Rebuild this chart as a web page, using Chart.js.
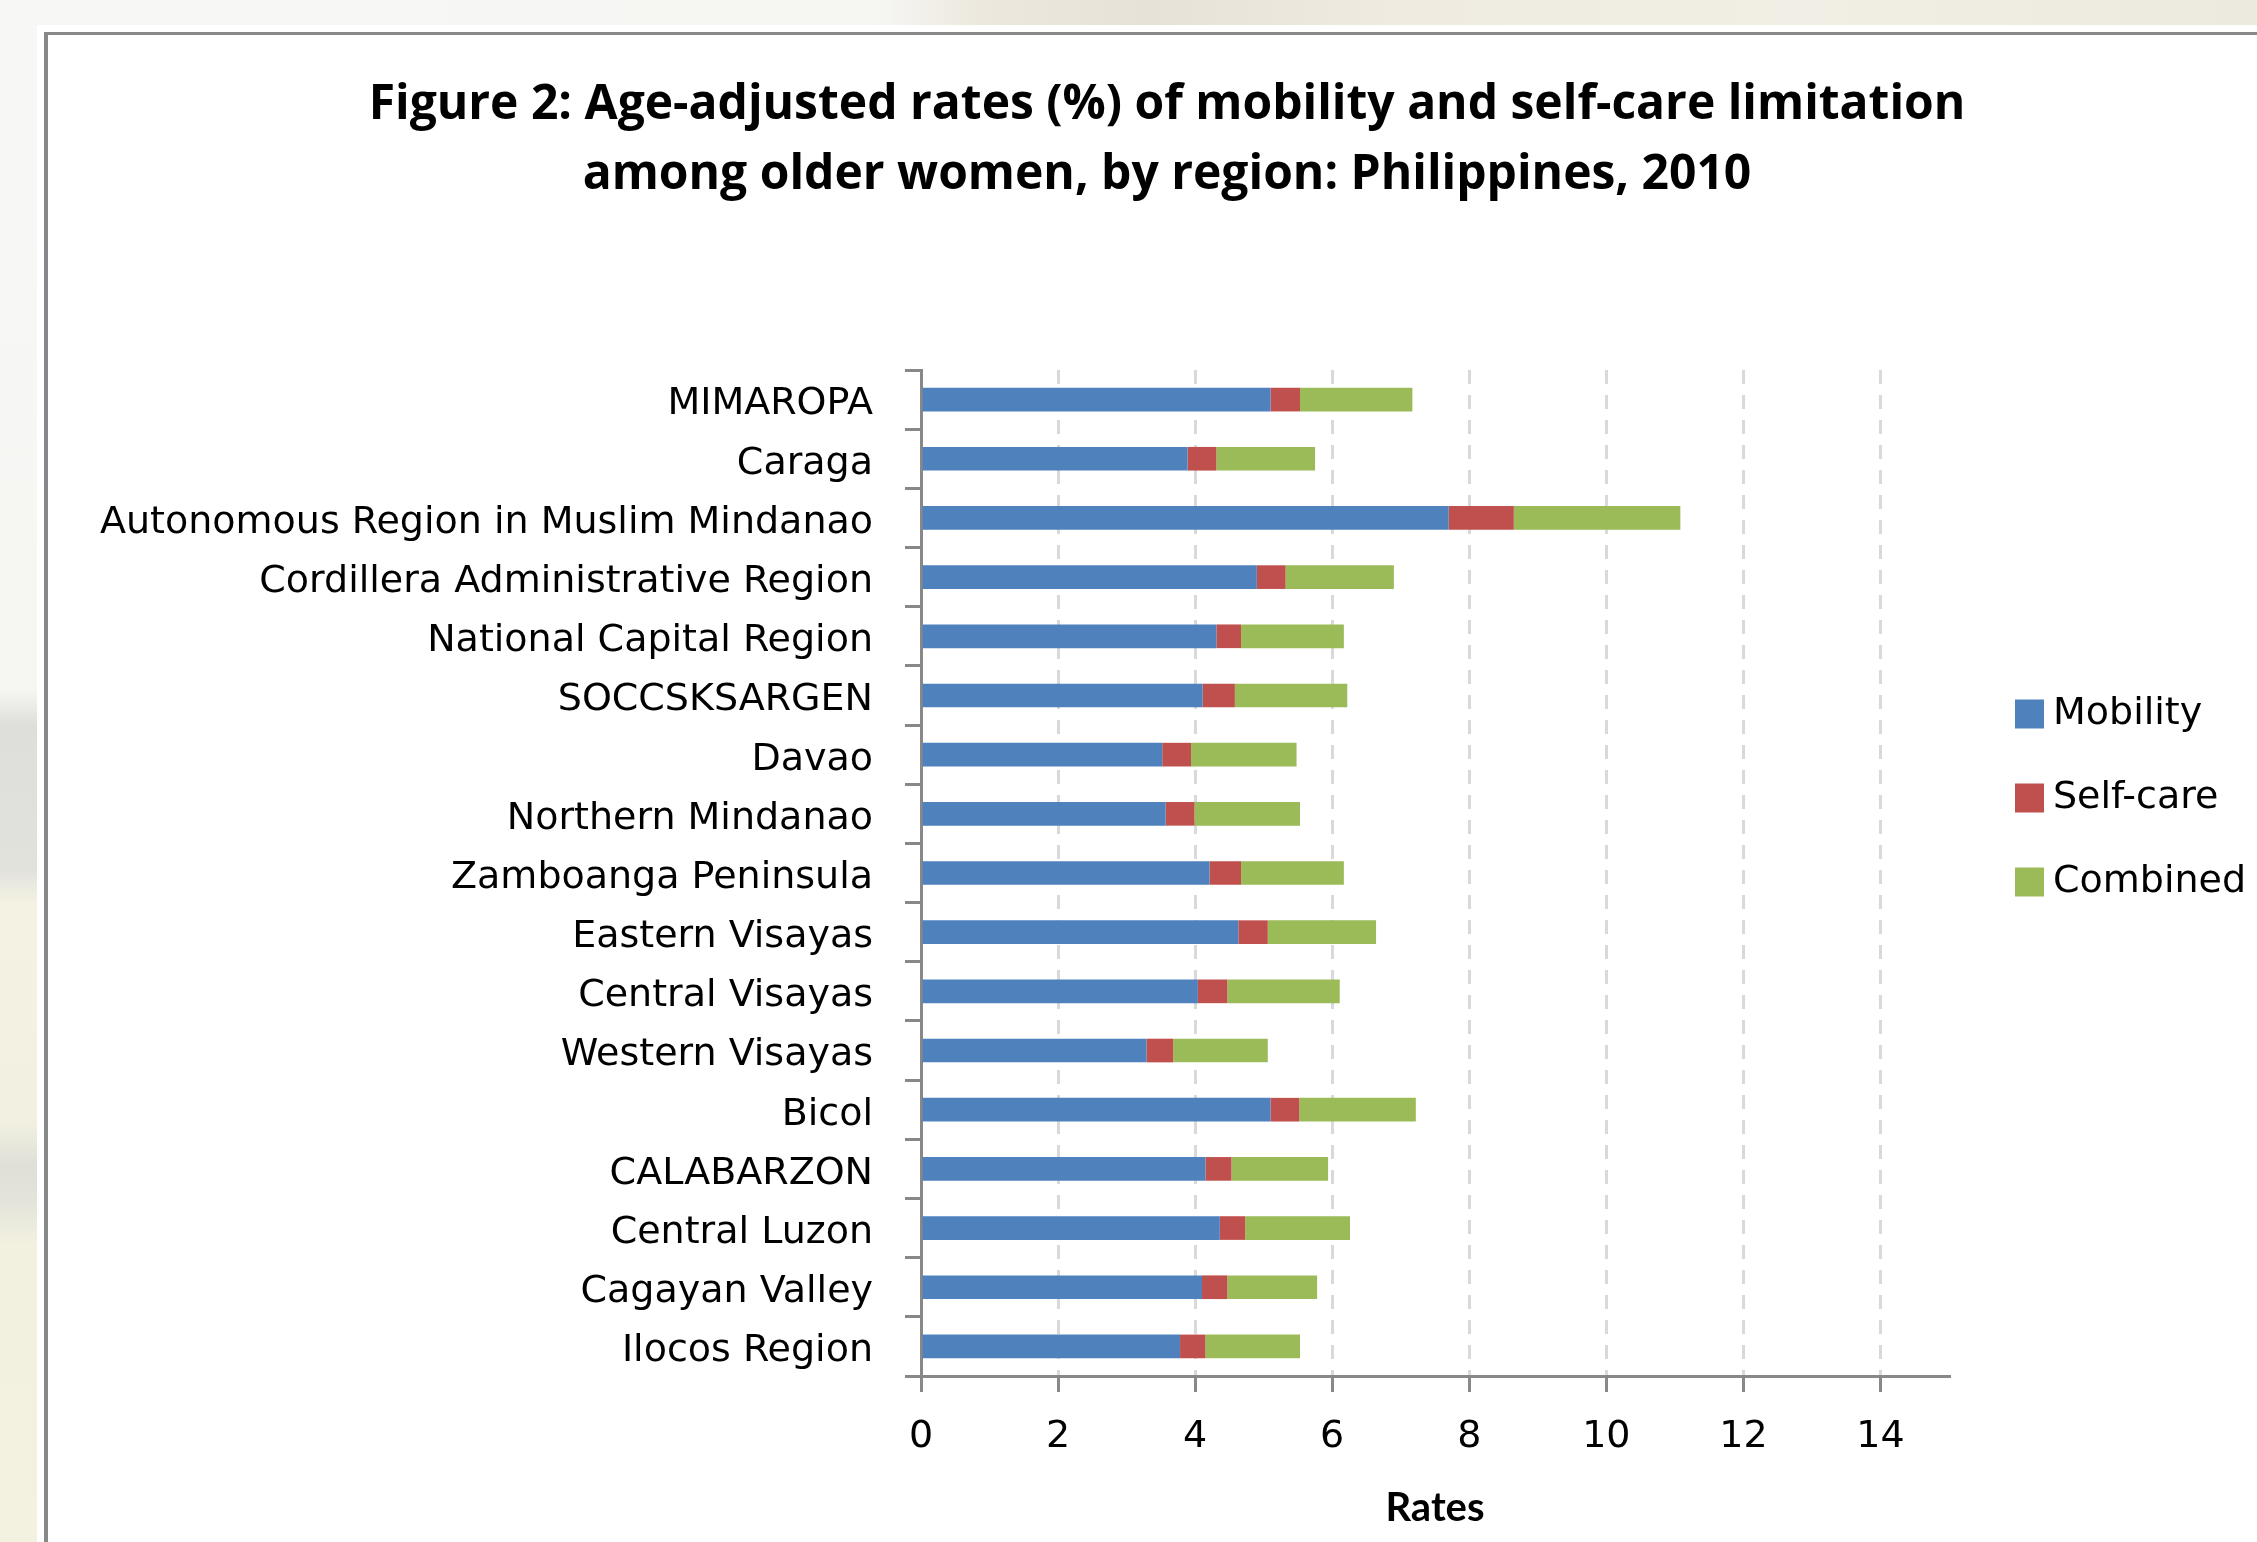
<!DOCTYPE html>
<html>
<head>
<meta charset="utf-8">
<title>Mobility and self-care limitation among older women, Philippines 2010</title>
<script src="https://cdn.jsdelivr.net/npm/chart.js@4.4.1/dist/chart.umd.min.js"></script>
<style>
  html, body { margin: 0; padding: 0; width: 2257px; height: 1542px; overflow: hidden; }
  body {
    position: relative;
    background: linear-gradient(to bottom,
      #f7f7f5 0px, #f6f6f3 690px, #dededa 725px, #e2e2dd 870px,
      #f4f3e3 905px, #f2f1e1 1120px, #dfdfd8 1165px, #e3e3da 1200px,
      #f2f1e0 1245px, #f3f1df 1542px);
  }
  #topband {
    position: absolute; left: 0; top: 0; width: 2257px; height: 25px;
    background: linear-gradient(to right,
      #f7f7f5 0px, #f6f6f3 880px, #ece8dd 980px, #e6e2d7 1150px,
      #efebe1 1400px, #f1eee5 1800px, #ece9df 2257px);
  }
  #sheet { position: absolute; left: 37px; top: 25px; right: 0; bottom: 0; background: #fff; }
  #frame {
    position: absolute; left: 44px; top: 32px; width: 2400px; height: 1700px;
    border-left: 4px solid #888; border-top: 3px solid #888;
  }
  #chart { position: absolute; left: 0; top: 0; }
</style>
</head>
<body>
<div id="topband"></div>
<div id="sheet"></div>
<div id="frame"></div>
<!-- the canvas runs a little past the right edge of the page; the legend's last word is cut there -->
<canvas id="chart" width="2304" height="1542"></canvas>
<script>
// Regions in official order (Region I first); the axis is reversed so Region I sits at the bottom.
const regions = [
  'Ilocos Region', 'Cagayan Valley', 'Central Luzon', 'CALABARZON', 'Bicol',
  'Western Visayas', 'Central Visayas', 'Eastern Visayas', 'Zamboanga Peninsula',
  'Northern Mindanao', 'Davao', 'SOCCSKSARGEN', 'National Capital Region',
  'Cordillera Administrative Region', 'Autonomous Region in Muslim Mindanao',
  'Caraga', 'MIMAROPA'
];

// Age-adjusted rates (%) per region
const mobility = [3.78, 4.10, 4.36, 4.15, 5.10, 3.29, 4.04, 4.63, 4.21, 3.57, 3.52, 4.11, 4.31, 4.90, 7.70, 3.89, 5.10];
const selfCare = [0.37, 0.37, 0.37, 0.38, 0.42, 0.39, 0.43, 0.43, 0.46, 0.42, 0.42, 0.47, 0.36, 0.42, 0.95, 0.42, 0.43];
const combined = [1.38, 1.31, 1.53, 1.41, 1.70, 1.38, 1.64, 1.58, 1.50, 1.54, 1.54, 1.64, 1.50, 1.58, 2.43, 1.44, 1.64];

const seriesNames = ['Mobility', 'Self-care', 'Combined'];
const rateTicks = [0, 2, 4, 6, 8, 10, 12, 14];

const titleLines = [
  'Figure 2: Age-adjusted rates (%) of mobility and self-care limitation',
  'among older women, by region: Philippines, 2010'
];
const axisTitle = 'Rates';

const COLORS = ['#4F81BD', '#C0504D', '#9BBB59'];
const LABEL_FONT = { family: 'DejaVu Sans', size: 38 };

// Legend drawn as a vertical column to the right of the plot
const sideLegend = {
  id: 'sideLegend',
  afterDraw(chart) {
    const ctx = chart.ctx;
    const box = 29, boxX = 2015, textX = 2053, firstY = 714, step = 84;
    ctx.save();
    ctx.font = LABEL_FONT.size + 'px "' + LABEL_FONT.family + '"';
    ctx.textAlign = 'left';
    ctx.textBaseline = 'middle';
    chart.data.datasets.forEach((ds, i) => {
      const y = firstY + i * step;
      ctx.fillStyle = ds.backgroundColor;
      ctx.fillRect(boxX, y - box / 2, box, box);
      ctx.fillStyle = '#000';
      ctx.fillText(ds.label, textX, y);
    });
    ctx.restore();
  }
};

new Chart(document.getElementById('chart'), {
  type: 'bar',
  data: {
    labels: regions,
    datasets: [mobility, selfCare, combined].map((values, i) => ({
      label: seriesNames[i],
      data: values,
      backgroundColor: COLORS[i],
      borderWidth: 0,
      barPercentage: 0.4,
      categoryPercentage: 1.0
    }))
  },
  options: {
    indexAxis: 'y',
    responsive: false,
    animation: false,
    devicePixelRatio: 1,
    layout: { padding: { left: 30, right: 0, top: 0, bottom: 0 } },
    plugins: {
      legend: { display: false },
      tooltip: { enabled: false },
      title: {
        display: true,
        text: titleLines,
        color: '#000',
        font: { family: 'Open Sans', weight: 'bold', size: 48, lineHeight: 70 / 48 },
        padding: { top: 70, bottom: 160 }
      }
    },
    scales: {
      x: {
        type: 'linear',
        stacked: true,
        min: 0,
        max: 15,
        bounds: 'data',
        afterBuildTicks(scale) {
          scale.ticks = rateTicks.map(v => ({ value: v }));
        },
        grid: {
          color: (c) => (c.tick && c.tick.value === 0 ? 'rgba(0,0,0,0)' : '#d9d9d9'),
          lineWidth: 3,
          drawTicks: true,
          tickLength: 16,
          tickColor: '#888',
          tickWidth: 3,
          tickBorderDash: []
        },
        border: { display: true, color: '#888', width: 3, dash: [14, 11] },
        ticks: { font: LABEL_FONT, color: '#000', padding: 22, maxRotation: 0, autoSkip: false },
        title: {
          display: true,
          text: axisTitle,
          color: '#000',
          font: { family: 'Lato', weight: 'bold', size: 40 },
          padding: { top: 0, bottom: 10 }
        },
        afterFit(scale) { scale.height = 166; }
      },
      y: {
        type: 'category',
        position: 'left',
        stacked: true,
        reverse: true,
        offset: true,
        grid: {
          offset: true,
          drawOnChartArea: false,
          drawTicks: true,
          tickLength: 16,
          color: '#888',
          tickColor: '#888',
          tickWidth: 3
        },
        border: { display: true, color: '#888', width: 3 },
        ticks: { font: LABEL_FONT, color: '#000', padding: 32, labelOffset: 5, autoSkip: false },
        afterFit(scale) { scale.width = 891; }
      },
      // empty right-hand gutter that keeps the legend column clear of the plot
      gutter: {
        type: 'linear',
        axis: 'y',
        position: 'right',
        display: true,
        grid: { display: false },
        border: { display: false },
        ticks: { display: false },
        afterFit(scale) { scale.width = 355; }
      }
    }
  },
  plugins: [sideLegend]
});
</script>
</body>
</html>
